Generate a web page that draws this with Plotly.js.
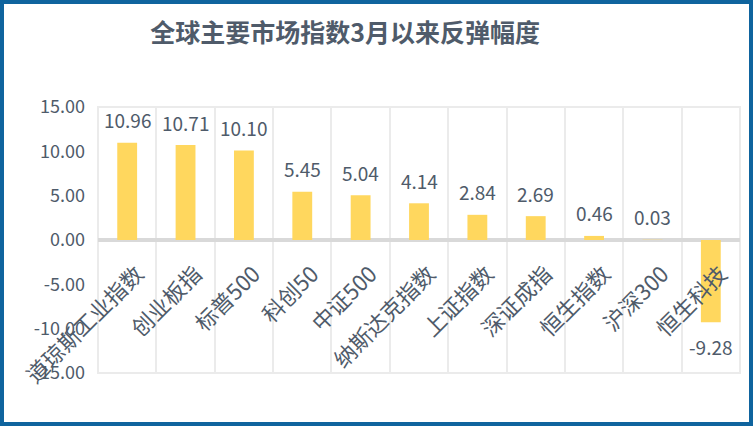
<!DOCTYPE html>
<html><head><meta charset="utf-8">
<script src="https://cdn.plot.ly/plotly-3.0.1.min.js"></script>
<style>
html,body{margin:0;padding:0;background:#fff;}
#frame{position:absolute;left:0;top:0;width:753px;height:426px;box-sizing:border-box;border:4px solid #0F649E;background:#fff;}
#chart{width:745px;height:418px;}
</style></head>
<body>
<div id="frame"><div id="chart"></div></div>
<script>
const categories = ['道琼斯工业指数','创业板指','标普500','科创50','中证500','纳斯达克指数','上证指数','深证成指','恒生指数','沪深300','恒生科技'];
const values = [10.96, 10.71, 10.10, 5.45, 5.04, 4.14, 2.84, 2.69, 0.46, 0.03, -9.28];
const yTickVals = [-15, -10, -5, 0, 5, 10, 15];
const yTickText = ['-15.00','-10.00','-5.00','0.00','5.00','10.00','15.00'];
const titleText = '全球主要市场指数3月以来反弹幅度';

const textColor = '#4F5B6A';
const fontFam = '"Noto Sans CJK SC", "Noto Sans", sans-serif';

const trace = {
  type: 'bar', x: categories, y: values,
  marker: {color: '#FFD75E'}, width: 0.34,
  hoverinfo: 'skip'
};

const annotations = values.map((v, i) => ({
  x: categories[i], y: v, xref: 'x', yref: 'y',
  text: v.toFixed(2),
  showarrow: false, yanchor: 'middle', xanchor: 'center',
  yshift: v >= 0 ? 23 : -24,
  font: {family: fontFam, size: 19, color: textColor}
}));

const layout = {
  width: 745, height: 418,
  margin: {l: 94, r: 9, t: 103, b: 49},
  paper_bgcolor: '#fff', plot_bgcolor: '#fff',
  showlegend: false,
  title: {
    text: '<b>' + titleText + '</b>',
    xref: 'container', yref: 'container',
    x: 0.458, xanchor: 'center', y: 0.93, yanchor: 'middle',
    font: {family: fontFam, size: 25, color: textColor}
  },
  xaxis: {
    type: 'category', anchor: 'free', position: 0.5,
    tickson: 'boundaries', showgrid: true, gridcolor: '#EBEBEB', gridwidth: 2,
    ticks: '', showline: false, zeroline: false,
    tickangle: -45, ticklabelstandoff: 16, ticklabelshift: 10,
    tickfont: {family: fontFam, size: 22, color: textColor}
  },
  yaxis: {
    range: [-15, 15], tickvals: yTickVals, ticktext: yTickText,
    showgrid: false, zeroline: true, zerolinecolor: '#D9D9D9', zerolinewidth: 4,
    ticks: '', showline: false, ticklabelstandoff: 12,
    tickfont: {family: fontFam, size: 18, color: textColor}
  },
  shapes: [{
    type: 'rect', xref: 'paper', yref: 'paper', x0: 0, x1: 1, y0: 0, y1: 1,
    line: {color: '#EBEBEB', width: 2}, layer: 'below'
  }],
  annotations: annotations
};

Plotly.newPlot('chart', [trace], layout, {staticPlot: true, displayModeBar: false});
</script>
</body></html>
